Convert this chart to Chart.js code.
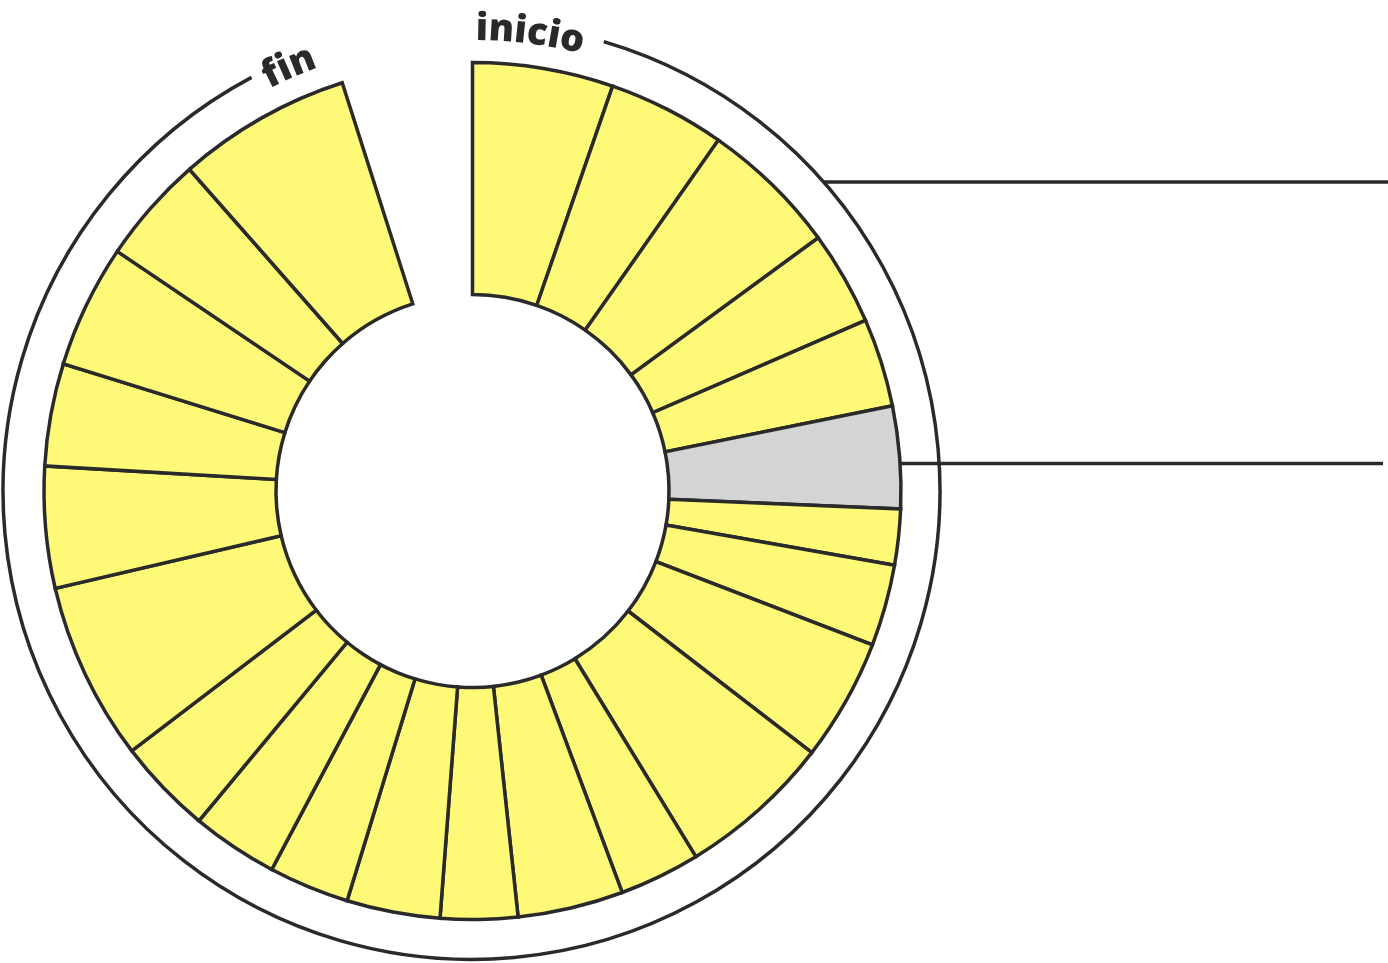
<!DOCTYPE html>
<html lang="es">
<head>
<meta charset="utf-8">
<title>Inicio – fin</title>
<script src="https://cdn.jsdelivr.net/npm/chart.js@4.4.1/dist/chart.umd.min.js"></script>
<style>
  html, body { margin: 0; padding: 0; background: #ffffff; }
  #wrap { width: 1388px; height: 963px; position: relative; }
</style>
</head>
<body>
<div id="wrap"><canvas id="c" width="1388" height="963"></canvas></div>
<script>
// ---- data (angular width of each segment, in degrees, clockwise from the top) ----
const segmentLabels = ['1','2','3','4','5','6','7','8','9','10','11','12','13','14','15','16','17','18','19','20','21','22','23'];
const segmentDegrees = [19.09, 15.93, 18.76, 12.75, 11.99, 13.89, 7.57, 11.06, 16.60, 20.95, 10.96, 14.34, 10.46, 12.67, 10.92, 11.73, 12.99, 24.20, 16.50, 13.91, 16.73, 14.65, 23.65];
const highlightedIndex = [5];
const startLabel = 'inicio';
const endLabel = 'fin';

// ---- styles ----
const INK = '#2a2a2a';
const YELLOW = '#fff978';
const GREY = '#d4d4d4';

const totalDegrees = segmentDegrees.reduce((a, b) => a + b, 0);
const fills = segmentDegrees.map((_, i) => highlightedIndex.includes(i) ? GREY : YELLOW);

function drawArcText(ctx, text, cx, cy, r, centerDeg) {
  ctx.font = '800 38px "Open Sans"';
  ctx.fillStyle = INK;
  ctx.textAlign = 'center';
  ctx.textBaseline = 'alphabetic';
  const W = ctx.measureText(text).width;
  const span = W / r;
  const start = centerDeg * Math.PI / 180 - span / 2;
  let acc = 0;
  for (const ch of text) {
    const w = ctx.measureText(ch).width;
    const a = start + (acc + w / 2) / r;
    ctx.save();
    ctx.translate(cx + r * Math.sin(a), cy - r * Math.cos(a));
    ctx.rotate(a);
    ctx.fillText(ch, 0, 0);
    ctx.restore();
    acc += w;
  }
}

const decor = {
  id: 'decor',
  afterDatasetsDraw(chart) {
    const ctx = chart.ctx;
    const meta = chart.getDatasetMeta(0);
    const a0 = meta.data[0];
    const cx = a0.x, cy = a0.y, R = a0.outerRadius;
    const ringR = R + 40;
    const toRad = d => (d - 90) * Math.PI / 180;
    ctx.save();
    ctx.strokeStyle = INK;
    ctx.lineWidth = 3.5;
    ctx.lineCap = 'butt';
    // outer ring
    ctx.beginPath();
    ctx.arc(cx - 1, cy, ringR, toRad(16.4), toRad(332));
    ctx.stroke();
    // leader line from ring
    const y1 = 182;
    const x1 = cx - 1 + Math.sqrt(ringR * ringR - (y1 - cy) * (y1 - cy));
    ctx.beginPath(); ctx.moveTo(x1, y1); ctx.lineTo(1388, y1); ctx.stroke();
    // leader line from highlighted segment
    const y2 = 463.5;
    const x2 = cx + Math.sqrt(R * R - (y2 - cy) * (y2 - cy));
    ctx.beginPath(); ctx.moveTo(x2, y2); ctx.lineTo(1383, y2); ctx.stroke();
    // curved labels
    drawArcText(ctx, startLabel, cx, cy, 451, 7.2);
    drawArcText(ctx, endLabel, cx, cy, 451, -23.4);
    ctx.restore();
  }
};

new Chart(document.getElementById('c'), {
  type: 'doughnut',
  data: {
    labels: segmentLabels,
    datasets: [{
      data: segmentDegrees,
      backgroundColor: fills,
      borderColor: INK,
      borderWidth: 3.5,
      borderAlign: 'center',
      borderJoinStyle: 'miter',
      hoverOffset: 0
    }]
  },
  options: {
    responsive: false,
    devicePixelRatio: 1,
    animation: false,
    rotation: 0,
    circumference: totalDegrees,
    radius: 428.5,
    cutout: '45.86%',
    layout: { padding: { left: 0, right: 443, top: 19, bottom: 0 } },
    plugins: {
      legend: { display: false },
      tooltip: { enabled: false }
    }
  },
  plugins: [decor]
});
</script>
</body>
</html>
